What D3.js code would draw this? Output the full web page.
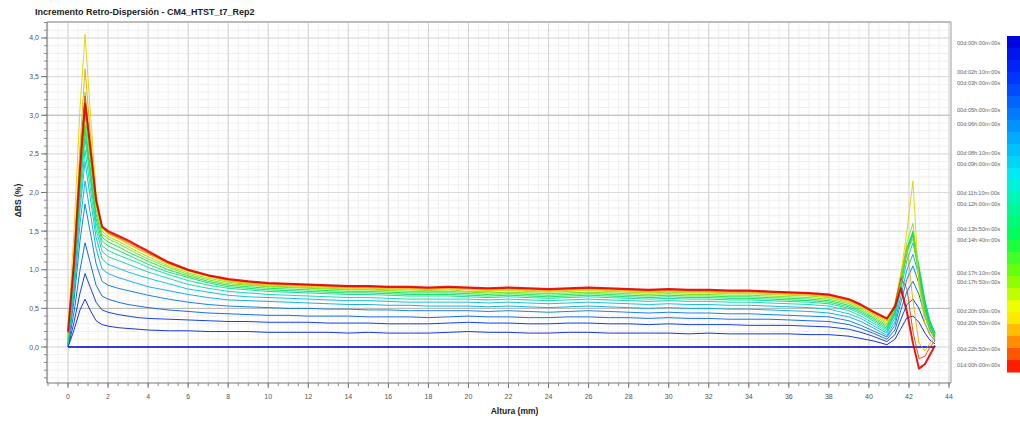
<!DOCTYPE html>
<html>
<head>
<meta charset="utf-8">
<script src="https://cdn.jsdelivr.net/npm/d3@7"></script>
<style>
  body { margin: 0; background: #fff; }
  svg { display: block; font-family: "Liberation Sans", Arial, sans-serif; }
</style>
</head>
<body>
<svg id="chart" width="1020" height="422"></svg>
<script>
// Sample heights along the tube (mm)
const heights = [
  0, 0.3, 0.6, 0.85, 1.1, 1.4, 1.7, 2, 2.5, 3, 3.5, 4, 5,
  6, 7, 8, 9, 10, 11, 12, 13, 14, 15, 16, 17, 18, 19, 20, 21, 22, 23, 24, 25, 26, 27, 28, 29, 30, 31, 32, 33, 34, 35, 36, 37, 38, 39,
  39.6, 40.2, 40.9, 41.3, 41.6, 41.9, 42.2, 42.5, 42.8, 43.05, 43.3
];

// Reference scan: delta BS is zero by definition
const scan00Heights = [0, 43.3];
const scan00 = [0, 0];

// Delta backscattering (%) for each later scan
const scan01 = [
  0.00, 0.22, 0.48, 0.62, 0.48, 0.34, 0.29, 0.27, 0.25, 0.24, 0.23, 0.22, 0.21,
  0.21, 0.20, 0.20, 0.20, 0.19, 0.19, 0.19, 0.19, 0.18, 0.19, 0.18, 0.18, 0.18, 0.19, 0.20, 0.19, 0.19, 0.18, 0.18, 0.19, 0.19, 0.18, 0.18, 0.18, 0.18, 0.17, 0.18, 0.17, 0.17, 0.17, 0.17, 0.16, 0.16, 0.14,
  0.11, 0.08, 0.03, 0.10, 0.24, 0.38, 0.40, 0.32, 0.18, 0.09, 0.04
];
const scan02 = [
  0.00, 0.32, 0.70, 0.95, 0.78, 0.58, 0.48, 0.45, 0.42, 0.40, 0.38, 0.37, 0.36,
  0.35, 0.34, 0.33, 0.33, 0.32, 0.32, 0.32, 0.31, 0.31, 0.31, 0.30, 0.30, 0.30, 0.31, 0.32, 0.31, 0.31, 0.30, 0.30, 0.31, 0.31, 0.30, 0.30, 0.29, 0.30, 0.29, 0.29, 0.29, 0.28, 0.28, 0.28, 0.27, 0.26, 0.23,
  0.19, 0.14, 0.07, 0.16, 0.36, 0.55, 0.62, 0.50, 0.30, 0.16, 0.08
];
const scan03 = [
  0.01, 0.45, 1.00, 1.35, 1.10, 0.80, 0.66, 0.62, 0.58, 0.55, 0.53, 0.51, 0.48,
  0.46, 0.44, 0.43, 0.42, 0.41, 0.41, 0.40, 0.40, 0.40, 0.39, 0.39, 0.39, 0.38, 0.39, 0.40, 0.39, 0.39, 0.38, 0.38, 0.39, 0.39, 0.38, 0.38, 0.37, 0.38, 0.37, 0.37, 0.36, 0.36, 0.36, 0.35, 0.34, 0.33, 0.29,
  0.24, 0.18, 0.10, 0.22, 0.48, 0.72, 0.85, 0.68, 0.40, 0.22, 0.10
];
const scan04 = [
  0.02, 0.60, 1.38, 1.85, 1.50, 1.08, 0.85, 0.80, 0.76, 0.73, 0.70, 0.67, 0.62,
  0.58, 0.55, 0.53, 0.52, 0.51, 0.50, 0.50, 0.49, 0.49, 0.48, 0.48, 0.47, 0.47, 0.47, 0.47, 0.46, 0.47, 0.46, 0.45, 0.46, 0.47, 0.46, 0.45, 0.44, 0.45, 0.44, 0.44, 0.43, 0.43, 0.42, 0.41, 0.40, 0.39, 0.34,
  0.28, 0.21, 0.13, 0.28, 0.58, 0.88, 1.05, 0.82, 0.48, 0.26, 0.13
];
const scan05 = [
  0.03, 0.70, 1.60, 2.15, 1.75, 1.28, 1.01, 0.95, 0.90, 0.86, 0.82, 0.78, 0.73,
  0.68, 0.64, 0.61, 0.60, 0.59, 0.58, 0.57, 0.56, 0.55, 0.55, 0.54, 0.54, 0.53, 0.53, 0.53, 0.52, 0.53, 0.52, 0.51, 0.52, 0.53, 0.52, 0.51, 0.50, 0.51, 0.50, 0.50, 0.49, 0.49, 0.48, 0.47, 0.46, 0.44, 0.39,
  0.33, 0.25, 0.15, 0.33, 0.66, 1.00, 1.20, 0.92, 0.55, 0.30, 0.15
];
const scan06 = [
  0.04, 0.80, 1.78, 2.40, 1.95, 1.42, 1.14, 1.07, 1.02, 0.97, 0.93, 0.89, 0.82,
  0.75, 0.71, 0.67, 0.65, 0.64, 0.63, 0.62, 0.61, 0.60, 0.60, 0.59, 0.58, 0.58, 0.58, 0.58, 0.57, 0.58, 0.57, 0.56, 0.57, 0.58, 0.57, 0.56, 0.55, 0.56, 0.55, 0.55, 0.54, 0.54, 0.53, 0.52, 0.51, 0.49, 0.43,
  0.37, 0.28, 0.18, 0.38, 0.75, 1.12, 1.35, 1.00, 0.58, 0.33, 0.17
];
const scan07 = [
  0.05, 0.85, 1.90, 2.55, 2.08, 1.52, 1.24, 1.17, 1.12, 1.07, 1.02, 0.97, 0.89,
  0.81, 0.76, 0.72, 0.70, 0.68, 0.67, 0.66, 0.65, 0.64, 0.64, 0.63, 0.62, 0.62, 0.62, 0.62, 0.61, 0.62, 0.61, 0.60, 0.61, 0.62, 0.61, 0.60, 0.59, 0.60, 0.59, 0.59, 0.58, 0.58, 0.57, 0.56, 0.55, 0.53, 0.47,
  0.40, 0.31, 0.20, 0.42, 0.80, 1.22, 1.45, 1.05, 0.60, 0.34, 0.18
];
const scan08 = [
  0.06, 0.90, 2.00, 2.70, 2.20, 1.60, 1.31, 1.25, 1.19, 1.14, 1.09, 1.03, 0.94,
  0.86, 0.80, 0.76, 0.74, 0.72, 0.71, 0.70, 0.69, 0.68, 0.68, 0.67, 0.66, 0.66, 0.66, 0.65, 0.64, 0.65, 0.64, 0.63, 0.64, 0.65, 0.64, 0.63, 0.62, 0.63, 0.62, 0.62, 0.61, 0.61, 0.60, 0.59, 0.58, 0.56, 0.50,
  0.43, 0.34, 0.22, 0.44, 0.83, 1.26, 1.48, 1.02, 0.58, 0.32, 0.18
];
const scan09 = [
  0.08, 0.95, 2.10, 2.80, 2.28, 1.66, 1.37, 1.31, 1.25, 1.19, 1.13, 1.07, 0.97,
  0.90, 0.83, 0.78, 0.76, 0.74, 0.73, 0.72, 0.71, 0.70, 0.70, 0.69, 0.68, 0.68, 0.68, 0.67, 0.66, 0.67, 0.66, 0.65, 0.66, 0.67, 0.66, 0.65, 0.64, 0.65, 0.64, 0.64, 0.63, 0.63, 0.62, 0.61, 0.60, 0.58, 0.52,
  0.45, 0.36, 0.24, 0.46, 0.85, 1.28, 1.50, 1.00, 0.55, 0.30, 0.17
];
const scan10 = [
  0.10, 1.00, 2.15, 2.88, 2.35, 1.72, 1.42, 1.36, 1.30, 1.23, 1.17, 1.11, 1.00,
  0.92, 0.85, 0.80, 0.78, 0.76, 0.75, 0.74, 0.73, 0.72, 0.72, 0.71, 0.70, 0.70, 0.70, 0.69, 0.68, 0.69, 0.68, 0.67, 0.68, 0.69, 0.68, 0.67, 0.66, 0.67, 0.66, 0.66, 0.65, 0.65, 0.64, 0.63, 0.62, 0.60, 0.54,
  0.47, 0.38, 0.26, 0.48, 0.85, 1.25, 1.45, 0.95, 0.50, 0.28, 0.16
];
const scan11 = [
  0.12, 1.05, 2.25, 3.00, 2.45, 1.78, 1.46, 1.40, 1.34, 1.27, 1.20, 1.14, 1.03,
  0.94, 0.87, 0.82, 0.80, 0.78, 0.77, 0.76, 0.75, 0.74, 0.74, 0.73, 0.72, 0.72, 0.72, 0.71, 0.70, 0.71, 0.70, 0.69, 0.70, 0.71, 0.70, 0.69, 0.68, 0.69, 0.68, 0.68, 0.67, 0.67, 0.66, 0.65, 0.64, 0.62, 0.56,
  0.49, 0.40, 0.28, 0.50, 0.85, 1.25, 1.40, 0.90, 0.45, 0.25, 0.15
];
const scan12 = [
  0.15, 1.20, 2.50, 3.30, 2.60, 1.85, 1.50, 1.43, 1.37, 1.30, 1.23, 1.17, 1.05,
  0.96, 0.89, 0.84, 0.81, 0.79, 0.78, 0.77, 0.76, 0.75, 0.75, 0.74, 0.74, 0.73, 0.74, 0.72, 0.72, 0.73, 0.72, 0.71, 0.72, 0.73, 0.72, 0.71, 0.70, 0.71, 0.70, 0.70, 0.69, 0.69, 0.68, 0.67, 0.66, 0.64, 0.58,
  0.51, 0.42, 0.30, 0.52, 0.90, 1.35, 1.60, 0.85, 0.40, 0.20, 0.12
];
const scan13 = [
  0.22, 1.50, 3.10, 4.05, 3.10, 2.00, 1.53, 1.46, 1.40, 1.33, 1.26, 1.20, 1.07,
  0.98, 0.91, 0.85, 0.82, 0.80, 0.79, 0.78, 0.77, 0.76, 0.76, 0.75, 0.75, 0.74, 0.75, 0.74, 0.73, 0.74, 0.73, 0.72, 0.73, 0.74, 0.73, 0.72, 0.71, 0.72, 0.71, 0.71, 0.70, 0.70, 0.69, 0.68, 0.67, 0.65, 0.59,
  0.52, 0.43, 0.32, 0.55, 0.95, 1.50, 2.15, 0.80, 0.30, 0.15, 0.10
];
const scan14 = [
  0.20, 1.20, 2.60, 3.60, 2.80, 1.95, 1.54, 1.47, 1.41, 1.34, 1.27, 1.21, 1.08,
  0.99, 0.92, 0.86, 0.83, 0.81, 0.80, 0.79, 0.78, 0.77, 0.77, 0.76, 0.76, 0.75, 0.76, 0.75, 0.74, 0.75, 0.74, 0.73, 0.74, 0.75, 0.74, 0.73, 0.72, 0.73, 0.72, 0.72, 0.71, 0.71, 0.70, 0.69, 0.68, 0.66, 0.60,
  0.53, 0.44, 0.34, 0.55, 0.95, 1.30, 0.60, 0.05, -0.05, 0.05, 0.12
];
const scan15 = [
  0.18, 1.05, 2.35, 3.25, 2.65, 1.92, 1.55, 1.48, 1.42, 1.36, 1.29, 1.22, 1.09,
  0.99, 0.92, 0.87, 0.84, 0.82, 0.81, 0.80, 0.79, 0.78, 0.78, 0.77, 0.77, 0.76, 0.77, 0.76, 0.75, 0.76, 0.75, 0.74, 0.75, 0.76, 0.75, 0.74, 0.73, 0.74, 0.73, 0.73, 0.72, 0.72, 0.71, 0.70, 0.69, 0.67, 0.61,
  0.54, 0.45, 0.36, 0.55, 0.90, 0.75, 0.20, -0.15, -0.12, 0.00, 0.08
];
const scan16 = [
  0.20, 1.10, 2.30, 3.15, 2.60, 1.90, 1.56, 1.50, 1.44, 1.38, 1.31, 1.24, 1.10,
  1.00, 0.93, 0.88, 0.85, 0.83, 0.82, 0.81, 0.80, 0.79, 0.79, 0.78, 0.78, 0.77, 0.78, 0.77, 0.76, 0.77, 0.76, 0.75, 0.76, 0.77, 0.76, 0.75, 0.74, 0.75, 0.74, 0.74, 0.73, 0.73, 0.72, 0.71, 0.70, 0.68, 0.62,
  0.55, 0.46, 0.37, 0.52, 0.76, 0.45, 0.05, -0.28, -0.22, -0.10, 0.02
];

// Scan times (minutes from start), one per scan
const scanTimes = [0, 130, 180, 300, 360, 490, 540, 670, 720, 830, 880, 1030, 1070, 1200, 1250, 1370, 1440];

// Axis ticks
const xTickValues = d3.range(0, 45, 2);
const yTickValues = [0, 0.5, 1, 1.5, 2, 2.5, 3, 3.5, 4];

const titleText = "Incremento Retro-Dispersión - CM4_HTST_t7_Rep2";
const xTitle = "Altura (mm)";
const yTitle = "ΔBS (%)";

// ---------------------------------------------------------------
const svg = d3.select("#chart");
const L = 47, R = 950, T = 22, B = 383;

const x = d3.scaleLinear().domain([-1.05, 44.05]).range([L, R]);
const y = d3.scaleLinear().domain([-0.466, 4.207]).range([B, T]);

const tMax = d3.max(scanTimes);
const colour = d3.scaleLinear()
  .domain([0, 0.12, 0.3, 0.42, 0.6, 0.72, 0.82, 0.9, 1])
  .range(["#0000d8", "#0030ff", "#00a8ff", "#00f0f0", "#00ff50", "#80ff00", "#ffff00", "#ffa000", "#ff0000"])
  .interpolate(d3.interpolateRgb);
const lineColour = t => d3.color(colour(t / tMax)).darker(0.35).formatHex();

// Grid
const grid = svg.append("g");
const xMinor = d3.range(-1, 44.01, 0.5);
const yMinor = d3.range(-0.4, 4.201, 0.1).map(v => +v.toFixed(2));
grid.selectAll(".gxm").data(xMinor).join("line")
  .attr("x1", d => x(d)).attr("x2", d => x(d)).attr("y1", T).attr("y2", B)
  .attr("stroke", "#efefef").attr("stroke-width", 1);
grid.selectAll(".gym").data(yMinor).join("line")
  .attr("x1", L).attr("x2", R).attr("y1", d => y(d)).attr("y2", d => y(d))
  .attr("stroke", "#efefef").attr("stroke-width", 1);
grid.selectAll(".gxM").data(xTickValues).join("line")
  .attr("x1", d => x(d)).attr("x2", d => x(d)).attr("y1", T).attr("y2", B)
  .attr("stroke", "#d2d2d2").attr("stroke-width", 1);
grid.selectAll(".gyM").data(yTickValues).join("line")
  .attr("x1", L).attr("x2", R).attr("y1", d => y(d)).attr("y2", d => y(d))
  .attr("stroke", d => (d === 0.5 || d === 3) ? "#b4b4b4" : "#dadada").attr("stroke-width", 1);

// Frame
svg.append("line").attr("x1", L).attr("x2", R + 1).attr("y1", T).attr("y2", T)
  .attr("stroke", "#bdbdbd").attr("stroke-width", 2);
svg.append("line").attr("x1", R + 1).attr("x2", R + 1).attr("y1", T).attr("y2", B)
  .attr("stroke", "#bdbdbd").attr("stroke-width", 1.5);

// Curves
const line = d3.line()
  .defined(d => d[1] !== undefined)
  .x(d => x(d[0])).y(d => y(d[1]));

const plot = svg.append("g");
plot.append("path")
  .attr("d", line(scan00Heights.map((h, i) => [h, scan00[i]])))
  .attr("fill", "none").attr("stroke", lineColour(scanTimes[0])).attr("stroke-width", 1.3);

const scans = [scan01, scan02, scan03, scan04, scan05, scan06, scan07, scan08,
               scan09, scan10, scan11, scan12, scan13, scan14, scan15, scan16];
scans.forEach((s, i) => {
  plot.append("path")
    .attr("d", line(heights.map((h, j) => [h, s[j]])))
    .attr("fill", "none")
    .attr("stroke", lineColour(scanTimes[i + 1]))
    .attr("stroke-width", i === scans.length - 1 ? 2 : 1)
    .attr("stroke-linejoin", "round")
    .attr("opacity", 0.9);
});

// Axes
const xAxis = svg.append("g").attr("transform", `translate(0,${B})`);
xAxis.append("line").attr("x1", L).attr("x2", R + 1).attr("y1", 0).attr("y2", 0)
  .attr("stroke", "#777").attr("stroke-width", 1.2);
xAxis.selectAll(".xm").data(xMinor).join("line")
  .attr("x1", d => x(d)).attr("x2", d => x(d)).attr("y1", 0).attr("y2", 3)
  .attr("stroke", "#888");
xAxis.selectAll(".xM").data(xTickValues).join("line")
  .attr("x1", d => x(d)).attr("x2", d => x(d)).attr("y1", 0).attr("y2", 5)
  .attr("stroke", "#777");
xAxis.selectAll("text").data(xTickValues).join("text")
  .attr("x", d => x(d)).attr("y", 16)
  .attr("text-anchor", "middle").attr("font-size", 7).attr("fill", "#555")
  .text(d => d);

const yFmt = d => d3.format(".1f")(d).replace(".", ",");
const yAxis = svg.append("g").attr("transform", `translate(${L},0)`);
yAxis.append("line").attr("x1", 0).attr("x2", 0).attr("y1", T).attr("y2", B)
  .attr("stroke", "#777").attr("stroke-width", 1.2);
yAxis.selectAll(".ym").data(yMinor).join("line")
  .attr("x1", -3).attr("x2", 0).attr("y1", d => y(d)).attr("y2", d => y(d))
  .attr("stroke", "#888");
yAxis.selectAll(".yM").data(yTickValues).join("line")
  .attr("x1", -6).attr("x2", 0).attr("y1", d => y(d)).attr("y2", d => y(d))
  .attr("stroke", "#777");
yAxis.selectAll("text").data(yTickValues).join("text")
  .attr("x", -8).attr("y", d => y(d) + 2.5)
  .attr("text-anchor", "end").attr("font-size", 7).attr("fill", "#555")
  .text(yFmt);

// Titles
svg.append("text").attr("x", 35).attr("y", 15)
  .attr("font-size", 9).attr("font-weight", "bold").attr("fill", "#222")
  .text(titleText);
svg.append("text").attr("x", (L + R) / 2 + 16).attr("y", 414)
  .attr("text-anchor", "middle").attr("font-size", 8.5).attr("font-weight", "bold").attr("fill", "#222")
  .text(xTitle);
svg.append("text").attr("transform", `translate(21,${(T + B) / 2 - 2}) rotate(-90)`)
  .attr("text-anchor", "middle").attr("font-size", 8.5).attr("font-weight", "bold").attr("fill", "#222")
  .text(yTitle);

// Colour legend
const tScale = d3.scaleLinear().domain([0, tMax]).range([43, 365]);
const barTop = 36, barBottom = 372, barX = 1007;
const bands = 28;
const bandH = (barBottom - barTop) / bands;
svg.append("g").selectAll("rect").data(d3.range(bands)).join("rect")
  .attr("x", barX).attr("width", 1020 - barX)
  .attr("y", i => barTop + i * bandH).attr("height", bandH + 0.5)
  .attr("fill", i => colour(Math.min(1, Math.max(0, (i + 0.5) / bands))));

const pad = n => String(n).padStart(2, "0");
const fmtTime = t => `${pad(Math.floor(t / 1440))}d:${pad(Math.floor((t % 1440) / 60))}h:${pad(t % 60)}m:00s`;
svg.append("g").selectAll("text").data(scanTimes).join("text")
  .attr("x", 957).attr("y", t => tScale(t) + 2)
  .attr("font-size", 5.6).attr("fill", "#666")
  .text(fmtTime);
</script>
</body>
</html>
